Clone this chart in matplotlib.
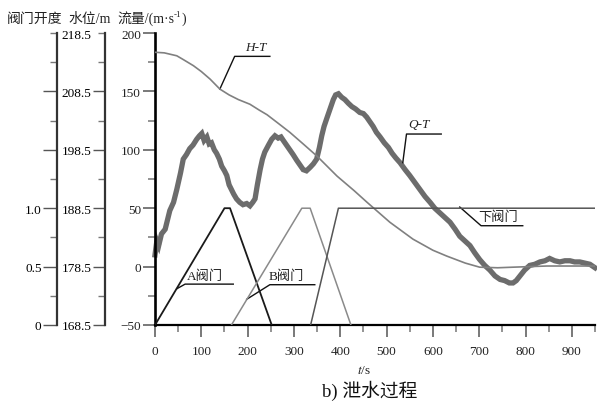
import matplotlib
matplotlib.use('Agg')
import matplotlib.pyplot as plt
from matplotlib.ticker import FixedLocator, FixedFormatter, NullFormatter

plt.rcParams['font.family'] = ['Liberation Serif', 'Noto Sans CJK SC', 'DejaVu Sans']
plt.rcParams['mathtext.fontset'] = 'stix'

# ---------------- data ----------------
q_t = [0, 4, 8, 14, 22, 32, 40, 47, 55, 61, 68, 75, 82, 90, 96, 101, 106, 112, 117, 122,
       128, 133, 139, 144, 150, 155, 160, 165, 170, 176, 183, 190, 198, 205, 211, 216, 221,
       227, 232, 237, 245, 252, 259, 266, 272, 277, 284, 291, 298, 306, 313, 320, 327, 335,
       342, 349, 355, 360, 365, 371, 378, 385, 390, 396, 403, 410, 417, 425, 433, 442, 450,
       457, 464, 471, 478, 486, 495, 504, 512, 520, 529, 540, 550, 561, 572, 583, 594, 604,
       615, 626, 637, 648, 658, 669, 680, 690, 701, 712, 723, 734, 745, 755, 765, 773, 780,
       788, 798, 809, 820, 831, 842, 852, 863, 874, 885, 896, 906, 917, 928, 939, 950]
q_v = [10, 22, 18, 28, 32, 48, 55, 66, 80, 92, 96, 101, 104, 109, 112, 114, 108, 111, 105, 106,
       100, 97, 92, 86, 82, 78, 70, 66, 62, 58, 55, 53, 54, 52, 55, 58, 70,
       83, 92, 98, 104, 109, 112, 110, 111, 108, 104, 100, 96, 91, 87, 83, 82, 85,
       88, 92, 102, 112, 120, 127, 135, 143, 147, 148, 145, 143, 140, 137, 135, 132, 131,
       128, 124, 120, 115, 111, 106, 102, 97, 93, 89, 83, 78, 72, 66, 60, 55, 50,
       46, 42, 38, 32, 26, 22, 18, 12, 6, 1, -3, -8, -11, -12, -14, -14, -12,
       -8, -3, 1, 2, 4, 5, 7, 5, 4, 5, 5, 4, 4, 3, 2, -1]

h_t = [0, 20, 47, 60, 83, 100, 119, 140, 160, 180, 205, 225, 242, 265, 291, 320, 350, 393,
       430, 458, 507, 557, 600, 630, 670, 701, 740, 773, 846, 950]
h_v = [215.2, 215.1, 214.6, 214.0, 212.9, 211.9, 210.6, 208.9, 207.9, 207.1, 206.3, 205.3,
       204.5, 203.1, 201.5, 199.5, 197.4, 194.0, 191.5, 189.5, 186.1, 183.2, 181.3, 180.3,
       179.1, 178.4, 178.3, 178.4, 178.6, 178.6]

gate_a_t = [0, 150, 162, 252]
gate_a_v = [0, 1, 1, 0]
gate_b_t = [165, 317, 335, 423]
gate_b_v = [0, 1, 1, 0]
gate_low_t = [336, 396, 950]
gate_low_v = [0, 1, 1]

x_major = [0, 100, 200, 300, 400, 500, 600, 700, 800, 900]
x_minor = [50, 150, 250, 350, 450, 550, 650, 750, 850, 950]
q_major = [-50, 0, 50, 100, 150, 200]
q_minor = [-25, 25, 75, 125, 175]
h_major = [168.5, 178.5, 188.5, 198.5, 208.5]
h_minor = [173.5, 183.5, 193.5, 203.5, 213.5, 218.5]
h_minor_labels = ['', '', '', '', '', '218.5']
v_major = [0, 0.5, 1.0, 1.5, 2.0]
v_major_labels = ['0', '0.5', '1.0', '', '']
v_minor = [0.25, 0.75, 1.25, 1.75, 2.25, 2.5]

# ---------------- figure ----------------
W, H = 597, 402
fig = plt.figure(figsize=(W / 100, H / 100), dpi=100)
rect = [155 / W, 1 - 326 / H, 440 / W, 292 / H]
ax = fig.add_axes(rect)
ax_h = fig.add_axes(rect)
ax_v = fig.add_axes(rect)

FS = 9.5
MAJ, MIN = 8.6, 5.0

for a in (ax, ax_h, ax_v):
    a.set_xlim(0, 950)
    a.spines['top'].set_visible(False)
    a.spines['right'].set_visible(False)
for a in (ax_h, ax_v):
    a.patch.set_visible(False)
    a.spines['bottom'].set_visible(False)
    a.tick_params(axis='x', which='both', bottom=False, labelbottom=False)

# main Q axis
ax.set_ylim(-50, 200)
ax.xaxis.set_major_locator(FixedLocator(x_major))
ax.xaxis.set_minor_locator(FixedLocator(x_minor))
ax.yaxis.set_major_locator(FixedLocator(q_major))
ax.yaxis.set_minor_locator(FixedLocator(q_minor))
ax.tick_params(axis='x', which='major', direction='out', length=MAJ, width=1.1, pad=5.5,
               labelsize=FS, color='#555555')
ax.tick_params(axis='x', which='minor', direction='out', length=MIN, width=1.1, color='#777777')
ax.tick_params(axis='y', which='major', direction='out', length=MAJ, width=1.1, pad=1.5,
               labelsize=FS, color='#555555')
ax.tick_params(axis='y', which='minor', direction='out', length=MIN, width=1.1, color='#777777')
ax.spines['left'].set_linewidth(1.9)
ax.spines['bottom'].set_linewidth(1.6)
for t in ax.get_xticklabels() + ax.get_yticklabels():
    t.set_color('#222222')

# water level axis
ax_h.set_ylim(168.5, 218.5)
ax_h.spines['left'].set_position(('outward', 50 * 0.72))
ax_h.spines['left'].set_linewidth(1.6)
ax_h.spines['left'].set_color('#333333')
ax_h.yaxis.set_major_locator(FixedLocator(h_major))
ax_h.yaxis.set_minor_locator(FixedLocator(h_minor))
ax_h.yaxis.set_minor_formatter(FixedFormatter(h_minor_labels))
ax_h.tick_params(axis='y', which='major', direction='out', length=MAJ, width=1.0, pad=1.0,
                 labelsize=FS, color='#555555')
ax_h.tick_params(axis='y', which='minor', direction='out', length=MIN, width=1.0,
                 pad=1.0 + MAJ - MIN, labelsize=FS, color='#777777')

# valve opening axis
ax_v.set_ylim(0, 2.5)
ax_v.spines['left'].set_position(('outward', 98 * 0.72))
ax_v.spines['left'].set_linewidth(1.6)
ax_v.spines['left'].set_color('#333333')
ax_v.yaxis.set_major_locator(FixedLocator(v_major))
ax_v.yaxis.set_major_formatter(FixedFormatter(v_major_labels))
ax_v.yaxis.set_minor_locator(FixedLocator(v_minor))
ax_v.yaxis.set_minor_formatter(NullFormatter())
ax_v.tick_params(axis='y', which='major', direction='out', length=MAJ + 1.5, width=1.0, pad=1.0,
                 labelsize=FS, color='#555555')
ax_v.tick_params(axis='y', which='minor', direction='out', length=MIN, width=1.0, color='#777777')

# ---------------- series ----------------
ax.plot(q_t, q_v, color='#6c6c6c', lw=3.8, solid_joinstyle='miter', clip_on=False)
ax_h.plot(h_t, h_v, color='#808080', lw=1.2)
ax_v.plot(gate_a_t, gate_a_v, color='#1a1a1a', lw=1.3)
ax_v.plot(gate_b_t, gate_b_v, color='#8a8a8a', lw=1.1)
ax_v.plot(gate_low_t, gate_low_v, color='#555555', lw=1.1)

# ---------------- callouts ----------------
callouts = [
    ('H-T', True, [140, 172, 248], [152, 180, 180], (218, 188)),
    ('Q-T', True, [535, 543, 618], [89, 113.5, 113.5], (569, 122)),
    ('下阀门', False, [658, 704, 794], [51, 35, 35], (740, 42.5)),
    ('A阀门', False, [47, 65, 169], [-19, -15, -15], (108, -8)),
    ('B阀门', False, [198, 248, 345], [-28, -15.5, -15.5], (284, -8)),
]
for label, ital, xs, ys, pos in callouts:
    ax.plot(xs, ys, color='#111111', lw=1.0, zorder=5)
    ax.text(pos[0], pos[1], label, ha='center', va='center', fontsize=9.5,
            fontstyle='italic' if ital else 'normal', color='#222222', zorder=6)

# ---------------- header / footer text ----------------
HY = 1 - 19 / H
fig.text(35 / W, HY, '阀门开度', ha='center', va='center', fontsize=10, color='#222222')
fig.text(90 / W, HY, '水位/m', ha='center', va='center', fontsize=10, color='#222222')
t1 = fig.text(117 / W, HY, '流量/(m·s', ha='left', va='center', fontsize=10, color='#222222')
fig.canvas.draw()
r = fig.canvas.get_renderer()
x_end = t1.get_window_extent(r).x1
t2 = fig.text(x_end / W, HY + 4 / H, '-1', ha='left', va='center', fontsize=6.5, color='#222222')
fig.canvas.draw()
x_end2 = t2.get_window_extent(r).x1
fig.text(x_end2 / W + 0.5 / W, HY, ')', ha='left', va='center', fontsize=10, color='#222222')

fig.text(364 / W, 1 - 371 / H, '$t$/s', ha='center', va='center', fontsize=9.5, color='#222222')
fig.text(370 / W, 1 - 391 / H, 'b) 泄水过程', ha='center', va='center', fontsize=13.5, color='#111111')

fig.savefig('out.png', dpi=100)
